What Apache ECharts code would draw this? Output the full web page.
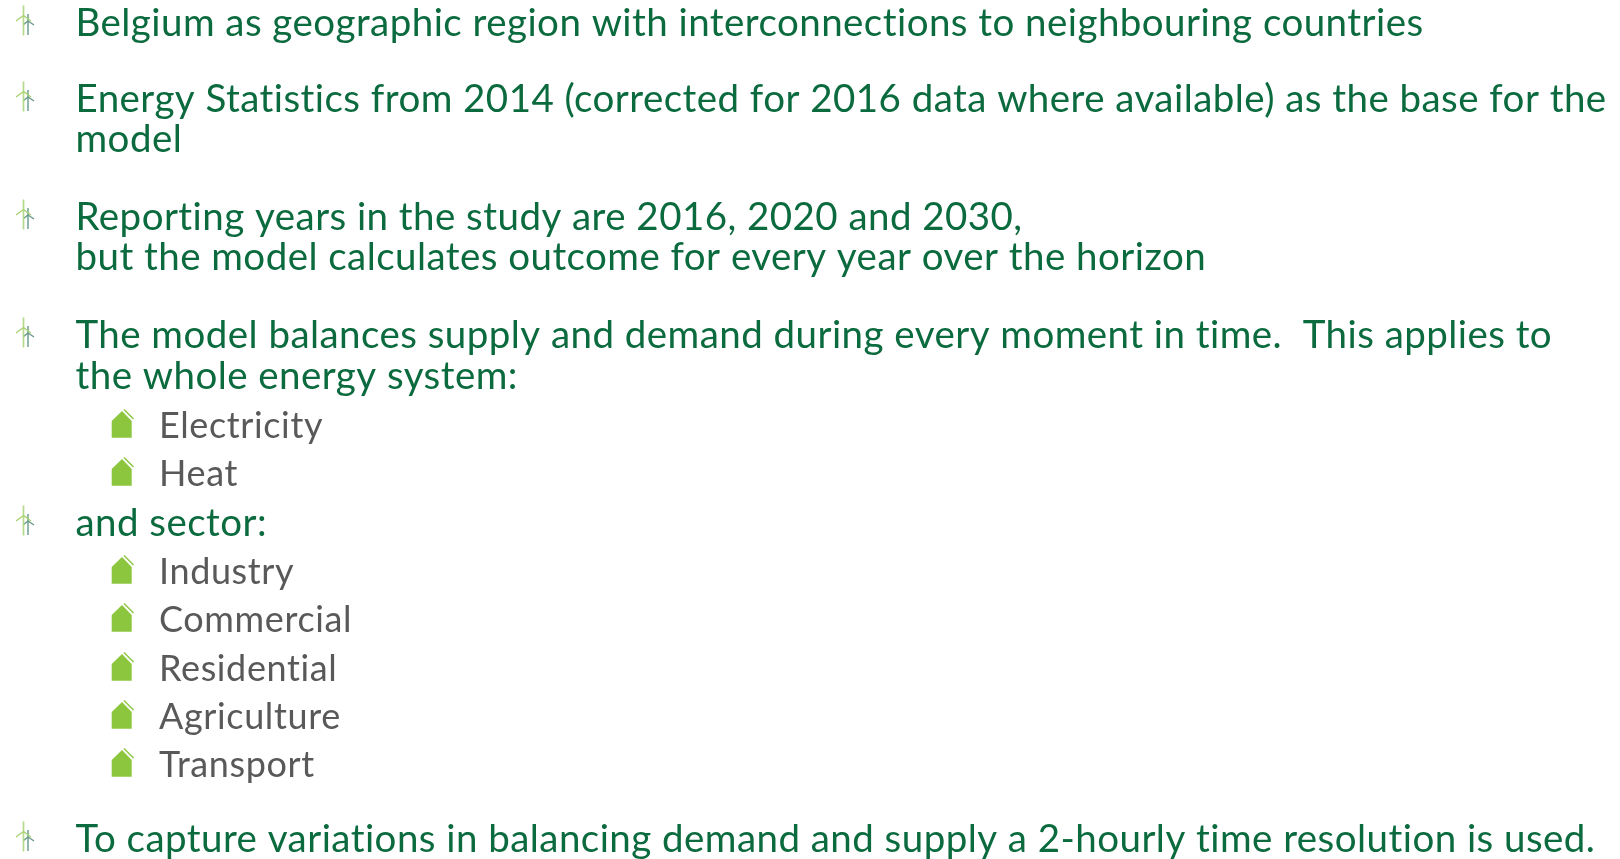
<!DOCTYPE html>
<html><head><meta charset="utf-8">
<style>html,body{margin:0;padding:0;background:#fff}#c{width:1620px;height:859px}</style>
<script src="https://cdn.jsdelivr.net/npm/echarts@6/dist/echarts.min.js"></script>
</head><body><div id="c"></div>
<script>
const mainLines = [
 "Belgium as geographic region with interconnections to neighbouring countries",
 "Energy Statistics from 2014 (corrected for 2016 data where available) as the base for the",
 "model",
 "Reporting years in the study are 2016, 2020 and 2030,",
 "but the model calculates outcome for every year over the horizon",
 "The model balances supply and demand during every moment in time.  This applies to",
 "the whole energy system:",
 "and sector:",
 "To capture variations in balancing demand and supply a 2-hourly time resolution is used."
];
const mainBullet = [true,true,false,true,false,true,false,true,true];
const mainBase = [36,112,152,230,270,348,389,536,852];
const subLines = ["Electricity","Heat","Industry","Commercial","Residential","Agriculture","Transport"];
const subBase = [438,486,584,632,681,729,777];
const houseBase = [437,485,583,631,680,728,776];

const GREEN="#0b6b3e", GREY="#595959", LIME="#8cc63f";
const FONT="Lato, 'Open Sans', sans-serif";
const MAIN_SIZE=38.5, SUB_SIZE=36;

// letter spacing (also turns off the ti ligature, which the reference does not have)
const proto = CanvasRenderingContext2D.prototype, fill0 = proto.fillText;
proto.fillText = function(){
  this.letterSpacing = this.font.indexOf(MAIN_SIZE+'px')>=0 ? '0.45px' : '0.62px';
  return fill0.apply(this, arguments);
};

const g=[];
function text(s,x,base,size,color){
  g.push({type:'text',x,y:base-size*0.335,silent:true,style:{text:s,x:0,y:0,font:`${size}px ${FONT}`,fill:color,verticalAlign:'middle',textAlign:'left'}});
}
function turbine(base){
  const t=base-36;
  const L=(a,b,c,d,col,w)=>g.push({type:'line',silent:true,shape:{x1:a,y1:b+t,x2:c,y2:d+t},style:{stroke:col,lineWidth:w}});
  L(28,14,28,35,'#6f9f90',1.5);
  L(28,21,34,25,'#5f9486',1.2);
  L(28,21,23,25,'#5f9486',1.2);
  L(23.5,5.5,23.5,35.5,'#b5d98a',1.7);
  L(23.5,15.5,16,21,'#a8d070',1.3);
  L(23.5,15.5,31,21,'#a8d070',1.3);
}
function house(base){
  const t=base-437;
  g.push({type:'polygon',silent:true,shape:{points:[[111.7,437.7+t],[111.7,421+t],[122,411+t],[131.7,421+t],[131.7,437.7+t]]},style:{fill:LIME}});
  g.push({type:'line',silent:true,shape:{x1:124,y1:409.5+t,x2:133.5,y2:419+t},style:{stroke:LIME,lineWidth:1.4}});
}
mainLines.forEach((s,i)=>{text(s,75.5,mainBase[i],MAIN_SIZE,GREEN);if(mainBullet[i])turbine(mainBase[i]);});
subLines.forEach((s,i)=>{text(s,159,subBase[i],SUB_SIZE,GREY);house(houseBase[i]);});
const chart=echarts.init(document.getElementById('c'),null,{renderer:'canvas'});
chart.setOption({animation:false,backgroundColor:'#fff',graphic:{elements:g}});
</script></body></html>
